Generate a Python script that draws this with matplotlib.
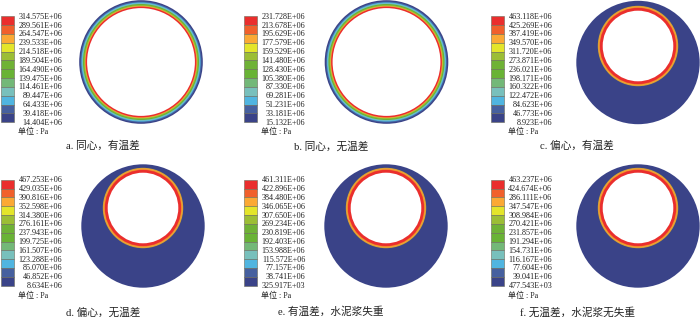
import matplotlib
matplotlib.use("Agg")
import matplotlib.pyplot as plt
from matplotlib.patches import Circle, Rectangle

plt.rcParams['font.family'] = ['Liberation Serif', 'Noto Sans CJK SC']

WIDTH = 700
HEIGHT = 317

# contour colours, top of the legend first
level_colors = ["#EA2E2D", "#F1602B", "#FBA934", "#E4E52A", "#9CBE35", "#6FB236",
                "#69B335", "#73B878", "#78C0BC", "#50B5E0", "#46609F", "#3A4388"]

labels_a = ["314.575E+06", "289.561E+06", "264.547E+06", "239.533E+06", "214.518E+06",
            "189.504E+06", "164.490E+06", "139.475E+06", "114.461E+06", "89.447E+06",
            "64.433E+06", "39.418E+06", "14.404E+06"]
labels_b = ["231.728E+06", "213.678E+06", "195.629E+06", "177.579E+06", "159.529E+06",
            "141.480E+06", "128.430E+06", "105.380E+06", "87.330E+06", "69.281E+06",
            "51.231E+06", "33.181E+06", "15.132E+06"]
labels_c = ["463.118E+06", "425.269E+06", "387.419E+06", "349.570E+06", "311.720E+06",
            "273.871E+06", "236.021E+06", "198.171E+06", "160.322E+06", "122.472E+06",
            "84.623E+06", "46.773E+06", "8.923E+06"]
labels_d = ["467.253E+06", "429.035E+06", "390.816E+06", "352.598E+06", "314.380E+06",
            "276.161E+06", "237.943E+06", "199.725E+06", "161.507E+06", "123.288E+06",
            "85.070E+06", "46.852E+06", "8.634E+06"]
labels_e = ["461.311E+06", "422.896E+06", "384.480E+06", "346.065E+06", "307.650E+06",
            "269.234E+06", "230.819E+06", "192.403E+06", "153.988E+06", "115.572E+06",
            "77.157E+06", "38.741E+06", "325.917E+03"]
labels_f = ["463.237E+06", "424.674E+06", "286.111E+06", "347.547E+06", "308.984E+06",
            "270.421E+06", "231.857E+06", "191.294E+06", "154.731E+06", "116.167E+06",
            "77.604E+06", "39.041E+06", "477.543E+03"]

captions = ["a. 同心，有温差", "b. 同心，无温差", "c. 偏心，有温差",
            "d. 偏心，无温差", "e. 有温差，水泥浆失重", "f. 无温差，水泥浆无失重"]

# ring bands, outside in: radius in px, colour
concentric_bands = [(61.8, "#3A4388"), (60.6, "#46609F"), (59.6, "#50B5E0"), (58.8, "#78C0BC"),
                    (58.0, "#69B335"), (56.9, "#9CBE35"), (56.0, "#FBA934"), (55.4, "#EA2E2D")]
eccentric_bands = [(40.2, "#C9A23A"), (39.6, "#F0A030"), (38.4, "#F1602B"), (38.0, "#EA2E2D")]
INNER_R = 53.9
ECC_INNER_R = 35.3


def ring_panel(ax, cx, cy):
    for r, color in concentric_bands:
        ax.add_patch(Circle((cx, cy), r, fc=color, ec="none"))
    ax.add_patch(Circle((cx, cy), INNER_R, fc="white", ec="none"))


def eccentric_panel(ax, cx, cy, inner_cy):
    ax.add_patch(Circle((cx, cy), 61.7, fc="#3A4388", ec="none"))
    for r, color in eccentric_bands:
        ax.add_patch(Circle((cx, inner_cy), r, fc=color, ec="none"))
    ax.add_patch(Circle((cx, inner_cy), ECC_INNER_R, fc="white", ec="none"))


def legend(ax, x0, y0, labels):
    step = 8.83
    for i, color in enumerate(level_colors):
        ax.add_patch(Rectangle((x0, y0 + i * step), 13, step, fc=color, ec="#6b6b5a", lw=0.4))
    for i, label in enumerate(labels):
        ax.text(x0 + 61.3, y0 + 0.5 + i * step, label, ha="right", va="center",
                fontsize=5.9, color="#222222")
    ax.text(x0 + 17, y0 + 116, "单位 : Pa", ha="left", va="center", fontsize=5.8, color="#222222")


fig = plt.figure(figsize=(WIDTH / 100, HEIGHT / 100), dpi=100)
ax = fig.add_axes([0, 0, 1, 1])
ax.set_xlim(0, WIDTH)
ax.set_ylim(HEIGHT, 0)
ax.axis("off")

legend(ax, 1, 16.3, labels_a)
legend(ax, 244, 16.3, labels_b)
legend(ax, 491, 16.3, labels_c)
legend(ax, 1, 179.7, labels_d)
legend(ax, 244, 179.7, labels_e)
legend(ax, 491, 179.7, labels_f)

ring_panel(ax, 141, 62)
ring_panel(ax, 386.5, 62)
eccentric_panel(ax, 638, 62.5, 46)
eccentric_panel(ax, 143, 226, 208)
eccentric_panel(ax, 386, 226, 208)
eccentric_panel(ax, 638, 226, 208)

caption_pos = [(103, 146), (331, 146), (577, 146), (103, 312), (331, 312), (577, 312)]
for (x, y), caption in zip(caption_pos, captions):
    ax.text(x, y, caption, ha="center", va="center", fontsize=7.7, color="#222222")

fig.savefig("out.png", dpi=100)
